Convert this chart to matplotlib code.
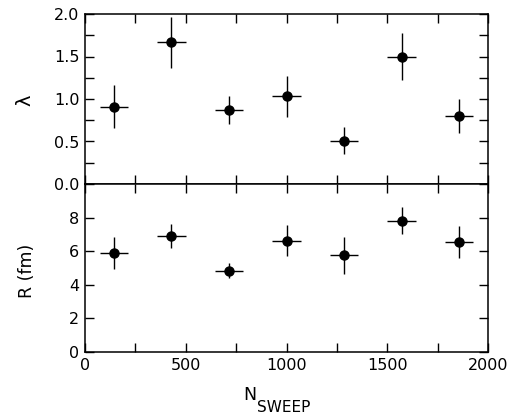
import matplotlib
matplotlib.use("Agg")
import matplotlib.pyplot as plt
from matplotlib.ticker import MultipleLocator, FormatStrFormatter

plt.rcParams['font.family'] = ['DejaVu Sans']

# Data
n_sweep = [143, 429, 714, 1000, 1286, 1571, 1857]
n_sweep_err = [71, 71, 71, 71, 71, 71, 71]
lam = [0.91, 1.67, 0.87, 1.03, 0.51, 1.50, 0.80]
lam_err = [0.25, 0.30, 0.16, 0.24, 0.16, 0.28, 0.20]
radius = [5.90, 6.93, 4.85, 6.63, 5.75, 7.82, 6.57]
radius_err = [0.93, 0.71, 0.46, 0.90, 1.12, 0.82, 0.95]

W, H = 516, 417
fig = plt.figure(figsize=(W / 100, H / 100), dpi=100)

left = 85 / W
right = 488 / W
top = 1 - 14 / H
mid = 1 - 184 / H
bot = 1 - 352 / H

ax1 = fig.add_axes([left, mid, right - left, top - mid])
ax2 = fig.add_axes([left, bot, right - left, mid - bot])

fs = 11.5
for ax in (ax1, ax2):
    for s in ax.spines.values():
        s.set_linewidth(1.1)
    ax.set_xlim(0, 2000)
    ax.xaxis.set_major_locator(MultipleLocator(500))
    ax.xaxis.set_minor_locator(MultipleLocator(250))
    ax.tick_params(which='both', direction='in', top=True, right=True,
                   length=6.5, width=1.0, labelsize=fs, pad=4)

eb_kw = dict(fmt='o', color='black', markersize=6.5, elinewidth=1.0,
             capsize=0, ecolor='black')

ax1.errorbar(n_sweep, lam, xerr=n_sweep_err, yerr=lam_err, **eb_kw)
ax1.set_ylim(0, 2.0)
ax1.yaxis.set_major_locator(MultipleLocator(0.5))
ax1.yaxis.set_minor_locator(MultipleLocator(0.25))
ax1.yaxis.set_major_formatter(FormatStrFormatter('%.1f'))
ax1.tick_params(labelbottom=False)
ax1.set_ylabel('λ', fontsize=14, va='center')
ax1.yaxis.set_label_coords(-0.149, 0.49)

ax2.errorbar(n_sweep, radius, xerr=n_sweep_err, yerr=radius_err, **eb_kw)
ax2.set_ylim(0, 10)
ax2.set_yticks([0, 2, 4, 6, 8])
ax2.yaxis.set_minor_locator(MultipleLocator(2))
ax2.set_ylabel('R (fm)', fontsize=12.5, va='center')
ax2.yaxis.set_label_coords(-0.144, 0.48)

# x-axis label: N with subscript SWEEP
fig.text(243 / W, 1 - 400 / H, 'N', fontsize=12.5, ha='left', va='baseline')
fig.text(257 / W, 1 - 412 / H, 'SWEEP', fontsize=11, ha='left', va='baseline')

fig.savefig('out.png', dpi=100)
